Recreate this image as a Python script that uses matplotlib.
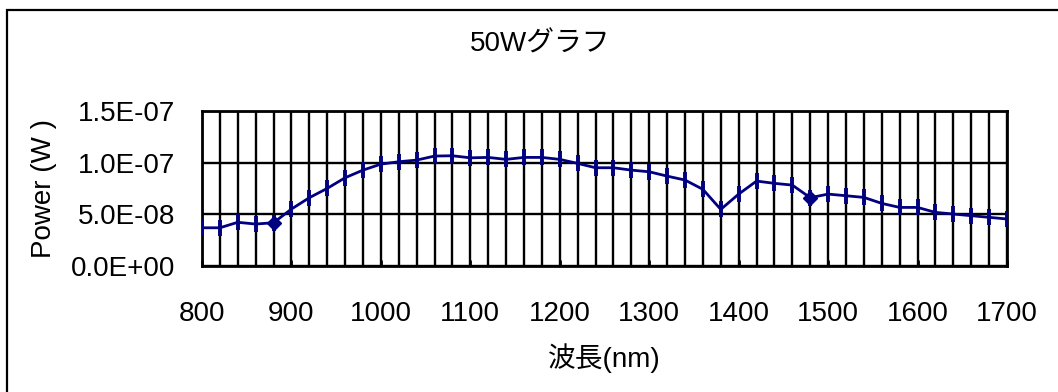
import numpy as np
import matplotlib
matplotlib.use("Agg")
import matplotlib.pyplot as plt
from matplotlib.patches import Rectangle

# ---- data ----
wavelength = np.arange(800, 1701, 20)
power = np.array([
    3.70, 3.70, 4.23, 4.06, 4.19, 5.51, 6.61, 7.51, 8.54, 9.28,
    9.86, 10.09, 10.25, 10.64, 10.67, 10.47, 10.51, 10.32, 10.51, 10.51,
    10.32, 9.93, 9.51, 9.51, 9.28, 9.12, 8.70, 8.32, 7.42, 5.48,
    6.96, 8.22, 8.00, 7.83, 6.61, 6.96, 6.80, 6.64, 6.06, 5.67,
    5.67, 5.19, 5.03, 4.87, 4.71, 4.55,
]) * 1e-8
diamond_at = [880, 1480]

xticks = [800, 900, 1000, 1100, 1200, 1300, 1400, 1500, 1600, 1700]
yticks = [0.0, 5e-8, 1e-7, 1.5e-7]
ytick_labels = ["0.0E+00", "5.0E-08", "1.0E-07", "1.5E-07"]

title = "50Wグラフ"
xlabel = "波長(nm)"
ylabel = "Power (W )"

# ---- style ----
plt.rcParams["font.family"] = ["Liberation Sans", "Noto Sans CJK JP", "DejaVu Sans"]
line_color = "#000080"
fs = 20

fig = plt.figure(figsize=(10.58, 3.92), dpi=100)
ax = fig.add_axes([0.1909, 0.3214, 0.9518 - 0.1909, 0.7168 - 0.3214])

# outer chart frame (right/bottom edges fall outside the picture)
fig.patches.append(Rectangle((7 / 1058, -0.2), 1.2, 1 - 9.5 / 392 + 0.2,
                             transform=fig.transFigure, fill=False,
                             edgecolor="black", linewidth=1.6, zorder=0))

ax.plot(wavelength, power, color=line_color, linewidth=2.0,
        marker="|", markersize=11, markeredgewidth=2.8, zorder=3)
idx = [list(wavelength).index(w) for w in diamond_at]
ax.plot(wavelength[idx], power[idx], linestyle="none", marker="D",
        markersize=7.5, color=line_color, zorder=4)

ax.set_xlim(800, 1700)
ax.set_ylim(0, 1.5e-7)
ax.set_xticks(xticks)
ax.set_xticks(np.arange(800, 1701, 20), minor=True)
ax.set_yticks(yticks)
ax.set_yticklabels(ytick_labels)

ax.grid(True, which="both", axis="x", color="black", linewidth=1.7)
ax.grid(True, which="major", axis="y", color="black", linewidth=1.7)
ax.set_axisbelow(True)

for s in ax.spines.values():
    s.set_linewidth(2.0)

ax.tick_params(axis="x", which="major", direction="in", length=4, width=2,
               labelsize=fs, pad=25)
ax.tick_params(axis="x", which="minor", length=0)
ax.tick_params(axis="y", which="major", length=0, labelsize=fs, pad=19)

ax.set_xlabel(xlabel, fontsize=fs, labelpad=12)
ax.set_ylabel(ylabel, fontsize=fs, labelpad=10)

fig.text(470 / 1058, 1 - 45 / 392, title, fontsize=fs, ha="left", va="center")

fig.savefig("out.png", dpi=100)
